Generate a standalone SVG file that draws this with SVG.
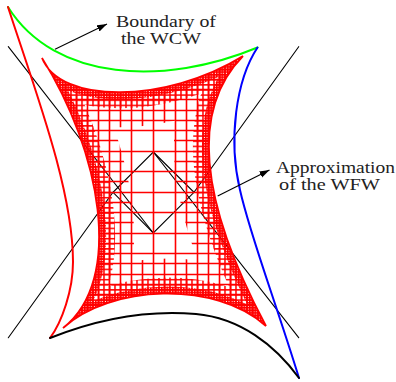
<svg xmlns="http://www.w3.org/2000/svg" width="396" height="382" viewBox="0 0 396 382">
<style>
.lbl{font-family:"Liberation Serif","DejaVu Serif",serif;font-size:16.5px;fill:#222}
.ax{stroke:#000;stroke-width:1.1;fill:none;stroke-linecap:round}
.cv{fill:none;stroke-width:2;stroke-linecap:round}
.arr{stroke:#000;stroke-width:1.1;fill:none;marker-end:url(#ah)}
.gl{stroke:#f00;stroke-width:1.6;fill:none}
</style>
<defs>
<marker id="ah" markerUnits="userSpaceOnUse" markerWidth="11" markerHeight="8" refX="10" refY="4" orient="auto"><path d="M0,0.6 L10,4 L0,7.4 Z" fill="#000"/></marker>
<pattern id="g3" patternUnits="userSpaceOnUse" x="152.75" y="191.75" width="5.5" height="5.125"><path class="gl" d="M0.75,0V5.125M0,0.75H5.5"/></pattern>
<pattern id="g4" patternUnits="userSpaceOnUse" x="152.75" y="191.75" width="2.75" height="2.5625"><path class="gl" d="M0.75,0V2.5625M0,0.75H2.75"/></pattern>
<path id="star" d="M42,58 C60,104 165,104 243,56 C180,120 215,230 266,326 C215,280 110,285 63,328 C125,280 100,150 42,58 Z"/>
<clipPath id="starclip"><path d="M42,58 C60,104 165,104 243,56 C180,120 215,230 266,326 C215,280 110,285 63,328 C125,280 100,150 42,58 Z"/></clipPath>
<mask id="mband" maskUnits="userSpaceOnUse" x="0" y="0" width="396" height="382"><use href="#star" fill="none" stroke="#fff" stroke-width="70"/></mask>
</defs>
<rect width="396" height="382" fill="#fff"/>
<g id="axes">
<path class="ax" d="M8.3,46.7 L153.3,233 M8.3,337.7 L113,192.3 M153.3,152 L298.7,337.7 M298.7,46.7 L194,192.3"/>
<path class="ax" d="M153.3,152 L194,192.3 L153.3,233 L113,192.3 Z"/>
</g>
<g id="boundary-wcw">
<path class="cv" stroke="#00ff00" d="M8,7 C55,82 165,86 257.5,47.5"/>
<path class="cv" stroke="#ff0000" d="M8,7 C35,90 73,190 73,262 C73,290 62,322 50,338"/>
<path class="cv" stroke="#0000ff" d="M257.5,47.5 C236,80 228,140 240,190 C250,235 275,300 299,378"/>
<path class="cv" stroke="#000" d="M50,338 C100,318 150,310 196,314 C240,318 275,345 299,378"/>
</g>
<g id="wfw-approx">
<g clip-path="url(#starclip)">
<path class="gl" d="M65.5,40V340M87.5,40V340M109.5,40V340M131.5,40V340M153.5,40V340M175.5,40V340M197.5,40V340M219.5,40V340M241.5,40V340M263.5,40V340M30,48.5H280M30,69.5H280M30,89.5H280M30,110.5H280M30,130.5H280M30,151.5H280M30,171.5H280M30,192.5H280M30,212.5H280M30,233.5H280M30,253.5H280M30,274.5H280M30,294.5H280M30,315.5H280"/>
<path class="gl" mask="url(#mband)" d="M54.5,40V340M76.5,40V340M98.5,40V340M120.5,40V340M142.5,40V340M164.5,40V340M186.5,40V340M208.5,40V340M230.5,40V340M252.5,40V340M30,58.5H280M30,79.5H280M30,99.5H280M30,120.5H280M30,140.5H280M30,161.5H280M30,181.5H280M30,202.5H280M30,222.5H280M30,243.5H280M30,263.5H280M30,284.5H280M30,304.5H280M30,325.5H280"/>
<use href="#star" fill="none" stroke="url(#g3)" stroke-width="32"/>
<use href="#star" fill="none" stroke="url(#g4)" stroke-width="14"/>
</g>
<use href="#star" fill="none" stroke="#f00" stroke-width="1.8"/>
</g>
<g id="label-wcw">
<text class="lbl" x="116" y="26.7" textLength="100" lengthAdjust="spacingAndGlyphs">Boundary of</text>
<text class="lbl" x="121" y="44.3" textLength="80" lengthAdjust="spacingAndGlyphs">the WCW</text>
</g>
<g id="label-wfw">
<text class="lbl" x="276" y="173" textLength="119" lengthAdjust="spacingAndGlyphs">Approximation</text>
<text class="lbl" x="279" y="189.5" textLength="101" lengthAdjust="spacingAndGlyphs">of the WFW</text>
</g>
<g id="connectors">
<path class="arr" d="M55,49.3 L107,24"/>
<path class="arr" d="M217.7,196 L269.5,170"/>
</g>
</svg>
